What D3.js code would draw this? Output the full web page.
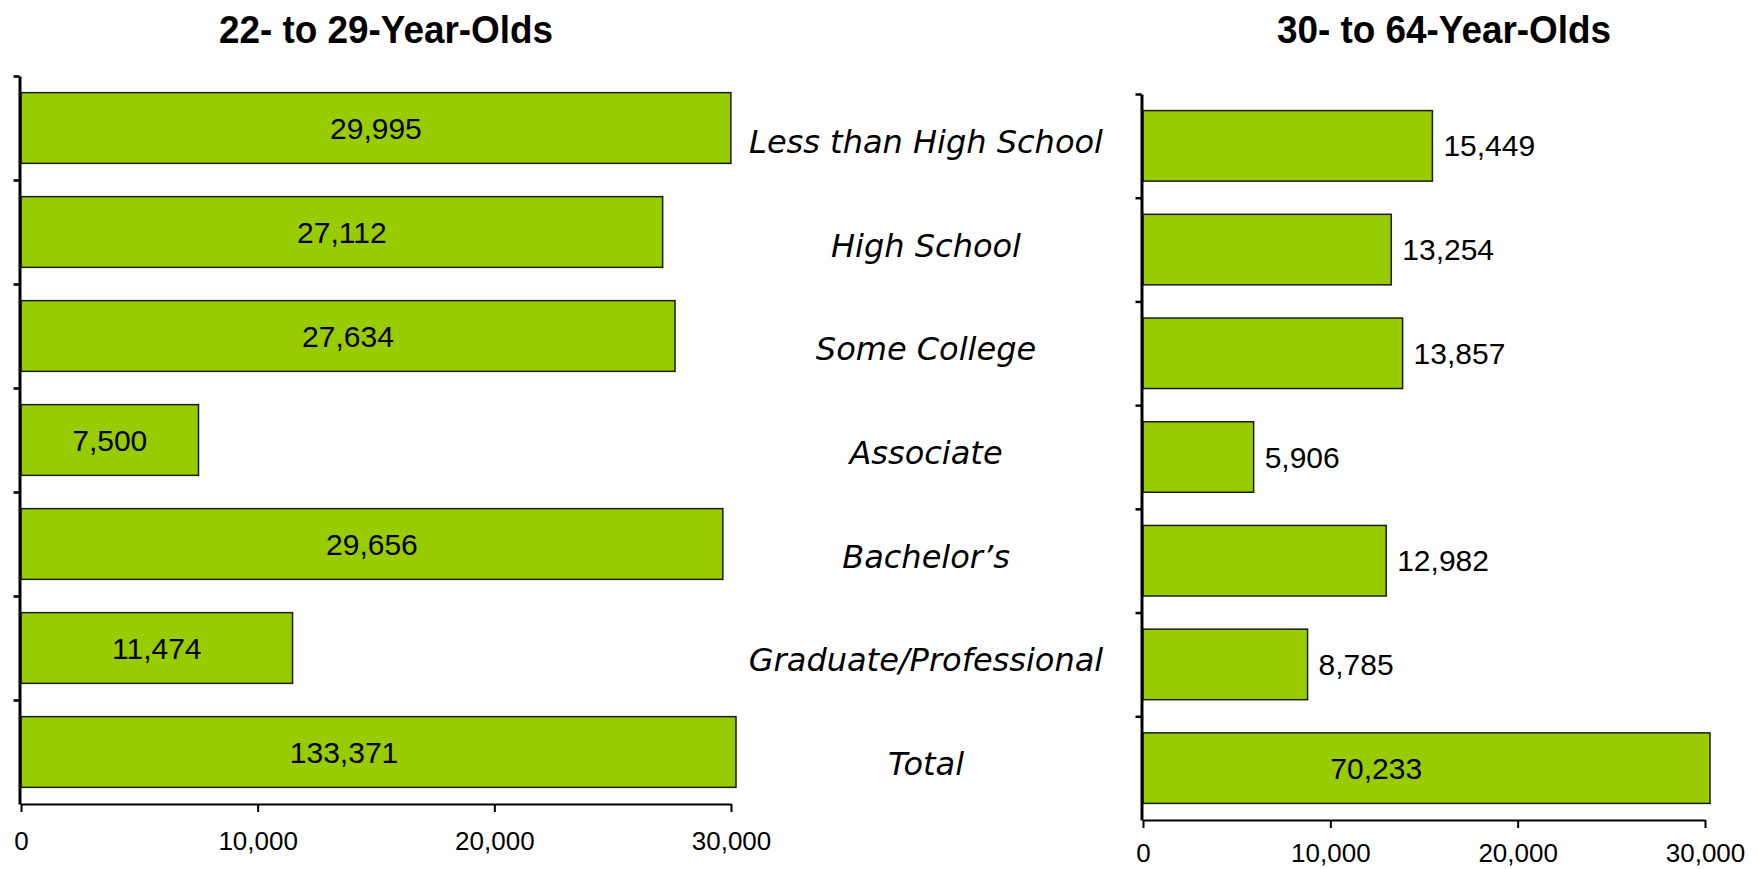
<!DOCTYPE html>
<html>
<head>
<meta charset="utf-8">
<script src="https://cdn.jsdelivr.net/npm/d3@7"></script>
<style>
  body { margin: 0; background: #fff; }
</style>
</head>
<body>
<div id="chart"></div>
<script>

// data
var categories = ['Less than High School', 'High School', 'Some College', 'Associate', 'Bachelor\u2019s', 'Graduate/Professional', 'Total'];
var youngValues = [29995, 27112, 27634, 7500, 29656, 11474, 133371];
var olderValues = [15449, 13254, 13857, 5906, 12982, 8785, 70233];
var xTicks = [0, 10000, 20000, 30000];
var panelTitles = ['22- to 29-Year-Olds', '30- to 64-Year-Olds'];

var width = 1757;
var height = 869;
var fillColor = '#99cc00';
var fmt = d3.format(',');

var svg = d3.select('#chart').append('svg')
    .attr('width', width)
    .attr('height', height)
    .style('background', '#fff');

function drawPanel(o) {
    var x = d3.scaleLinear()
        .domain([0, 30000])
        .range([o.left, o.right]);

    var y = d3.scaleBand()
        .domain(categories)
        .range([o.top, o.bottom])
        .paddingInner(0.32)
        .paddingOuter(0.16);

    // band edges for the little tick marks on the category axis
    var yEdge = d3.scaleLinear()
        .domain([0, categories.length])
        .range([o.top, o.bottom]);

    var maxX = o.right + 5;   // the Total bars run off the end of the axis
    var g = svg.append('g');

    g.append('text')
        .attr('x', o.titleX)
        .attr('y', 43)
        .attr('text-anchor', 'middle')
        .attr('textLength', 334)
        .attr('lengthAdjust', 'spacingAndGlyphs')
        .style('font', 'bold 38px "Liberation Sans", Arial, sans-serif')
        .text(o.title);

    g.selectAll('rect.bar')
        .data(o.values)
        .enter()
        .append('rect')
        .attr('class', 'bar')
        .attr('x', x(0))
        .attr('y', function(d, i) { return y(categories[i]); })
        .attr('width', function(d) { return Math.min(x(d), maxX) - x(0); })
        .attr('height', y.bandwidth())
        .attr('fill', fillColor)
        .attr('stroke', '#1a1a1a')
        .attr('stroke-width', 1.5);

    g.selectAll('text.value')
        .data(o.values)
        .enter()
        .append('text')
        .attr('class', 'value')
        .attr('x', function(d, i) {
            if (categories[i] === 'Total') return o.left + (o.right - o.left) * o.totalFrac;
            return o.inside ? (x(0) + x(d)) / 2 : x(d) + 11;
        })
        .attr('y', function(d, i) { return y(categories[i]) + y.bandwidth() / 2; })
        .attr('dy', '0.35em')
        .attr('text-anchor', function(d, i) {
            return (o.inside || categories[i] === 'Total') ? 'middle' : 'start';
        })
        .style('font', '30px "Liberation Sans", Arial, sans-serif')
        .style('fill', '#000')
        .text(function(d) { return fmt(d); });

    var yAxis = g.append('g')
        .attr('transform', 'translate(' + (x(0) - 1.5) + ',0)')
        .call(d3.axisLeft(yEdge)
            .tickValues(d3.range(categories.length))
            .tickSize(6)
            .tickSizeOuter(0)
            .tickFormat(''));
    yAxis.select('.domain').attr('stroke', '#000').attr('stroke-width', 3);
    yAxis.selectAll('.tick line').attr('stroke', '#000').attr('stroke-width', 2.5);

    var xAxis = g.append('g')
        .attr('transform', 'translate(0,' + o.bottom + ')')
        .call(d3.axisBottom(x)
            .tickValues(xTicks)
            .tickSize(8)
            .tickSizeOuter(0)
            .tickPadding(o.tickPad)
            .tickFormat(fmt));
    xAxis.select('.domain').attr('stroke', '#000').attr('stroke-width', 2);
    xAxis.selectAll('.tick line').attr('stroke', '#000').attr('stroke-width', 2);
    xAxis.selectAll('.tick text')
        .style('font', '26px "Liberation Sans", Arial, sans-serif')
        .style('fill', '#000');

    return y;
}

drawPanel({
    title: panelTitles[0], titleX: 386,
    values: youngValues,
    left: 21, right: 731, top: 76, bottom: 804,
    inside: true, totalFrac: 0.455, tickPad: 20
});

var yRight = drawPanel({
    title: panelTitles[1], titleX: 1444,
    values: olderValues,
    left: 1143, right: 1705, top: 94, bottom: 820,
    inside: false, totalFrac: 0.415, tickPad: 16
});

// category names sit in the gap between the two panels
svg.append('g')
    .selectAll('text.cat')
    .data(categories)
    .enter()
    .append('text')
    .attr('class', 'cat')
    .attr('x', 926)
    .attr('y', function(d) { return yRight(d) + yRight.bandwidth() / 2; })
    .attr('dy', '0.22em')
    .attr('text-anchor', 'middle')
    .style('font', 'italic 32px "DejaVu Sans", Verdana, sans-serif')
    .style('fill', '#000')
    .text(function(d) { return d; });

</script>
</body>
</html>
